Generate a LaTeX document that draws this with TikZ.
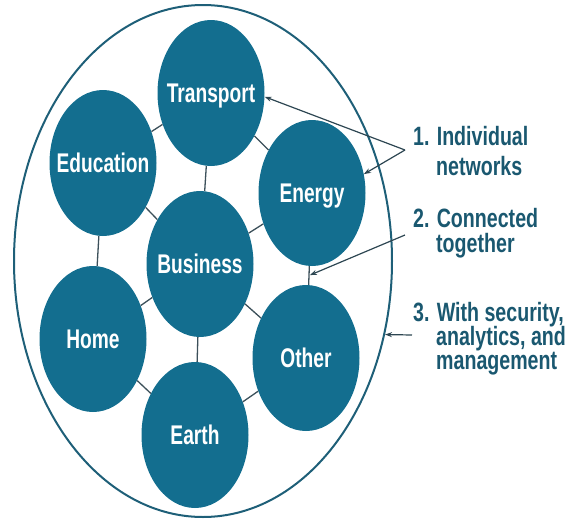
\documentclass[tikz,border=0pt]{standalone}
\usepackage{fontspec}
\newfontfamily\nar[FakeStretch=0.71]{Liberation Sans}
\newfontfamily\narside[FakeStretch=0.74]{Liberation Sans}
\usetikzlibrary{shapes.geometric,arrows.meta}
\definecolor{bubble}{RGB}{19,110,143}
\definecolor{ringc}{RGB}{30,95,120}
\definecolor{txtc}{RGB}{26,88,112}
\definecolor{linkc}{RGB}{60,80,90}
\definecolor{arrc}{RGB}{45,70,82}
\begin{document}
\begin{tikzpicture}[x=1pt,y=-1pt,
 bub/.style={ellipse, fill=bubble, inner sep=0pt, minimum width=107pt, minimum height=146pt},
 lab/.style={text=white, inner sep=0pt, font=\nar\bfseries\fontsize{27}{30}\selectfont, text height=19.3pt, text depth=0pt},
 link/.style={draw=linkc, line width=1.3pt},
 ringst/.style={ellipse, draw=ringc, line width=2pt, inner sep=0pt, minimum width=378pt, minimum height=512pt},
 side/.style={text=txtc, inner sep=0pt, anchor=base west, font=\narside\bfseries\fontsize{26.5}{30}\selectfont},
 ptr/.style={draw=arrc, line width=1.2pt, -{Stealth[length=7pt,width=5pt]}}]
\useasboundingbox (0,0) rectangle (574,523);
\node[ringst] (ring) at (203,261) {};
% bubbles
\node[bub, label={[lab,name=trl]center:Transport}] (tr) at (211,93) {};
\node[bub, label={[lab,name=enl]center:Energy}] (en) at (312,193) {};
\node[bub, label={[lab,name=otl]center:Other}] (ot) at (306,358) {};
\node[bub, label={[lab,name=eal]center:Earth}] (ea) at (195,435) {};
\node[bub, label={[lab,name=hol]center:Home}] (ho) at (93,339) {};
\node[bub, label={[lab,name=bul]center:Business}] (bu) at (200,264) {};
\node[bub, label={[lab,name=edl]center:Education}] (ed) at (103,163) {};
% links
\draw[link] (tr) -- (ed);
\draw[link] (tr) -- (bu);
\draw[link] (tr) -- (en);
\draw[link] (ed) -- (bu);
\draw[link] (ed) -- (ho);
\draw[link] (bu) -- (en);
\draw[link] (bu) -- (ho);
\draw[link] (bu) -- (ot);
\draw[link] (bu) -- (ea);
\draw[link] (en) -- coordinate[pos=0.5] (m2) (ot);
\draw[link] (ho) -- (ea);
\draw[link] (ea) -- (ot);
% side text
\node[side] (t1a) at (413,145) {1. Individual};
\node[side] (t1b) at (436,175) {networks};
\node[side] (t2a) at (413,227) {2. Connected};
\node[side] (t2b) at (436,252) {together};
\node[side] (t3a) at (413,321) {3. With security,};
\node[side] (t3b) at (436,345) {analytics, and};
\node[side] (t3c) at (436,369) {management};
% pointers
\coordinate (a1) at (405,150);
\coordinate (a2) at (405,235);
\coordinate (a3) at (412,335);
\draw[ptr] (a1) -- (tr.-4);
\draw[ptr] (a1) -- (en.20);
\draw[ptr, shorten >=1pt] (a2) -- (m2);
\draw[ptr] (a3) -- (ring.338);
\end{tikzpicture}
\end{document}
